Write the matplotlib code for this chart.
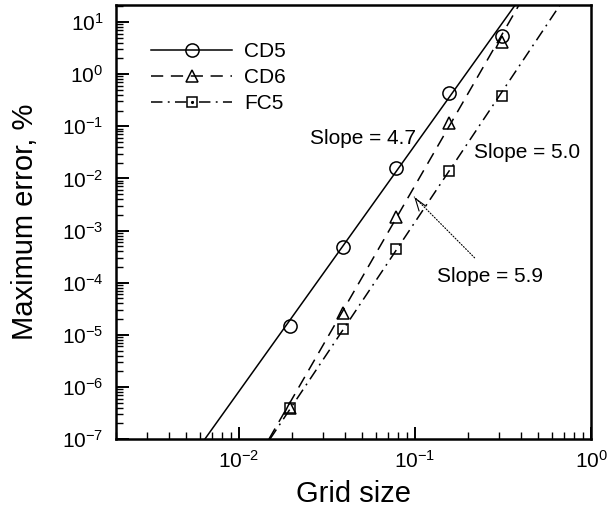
import matplotlib
matplotlib.use("Agg")
import matplotlib.pyplot as plt
from matplotlib.lines import Line2D
from matplotlib.legend_handler import HandlerTuple
from matplotlib.ticker import LogLocator, NullFormatter

plt.rcParams['font.family'] = ['Liberation Sans', 'DejaVu Sans']
plt.rcParams['mathtext.fontset'] = 'custom'
plt.rcParams['mathtext.rm'] = 'Liberation Sans'
plt.rcParams['mathtext.it'] = 'Liberation Sans'
plt.rcParams['mathtext.bf'] = 'Liberation Sans'
plt.rcParams['mathtext.default'] = 'regular'

# ---- data ----
grid_size = [0.01953, 0.03906, 0.07813, 0.15625, 0.3125]
err_cd5 = [1.48e-5, 4.9e-4, 1.55e-2, 0.44, 5.3]
err_cd6 = [3.9e-7, 2.6e-5, 1.8e-3, 0.116, 4.1]
err_fc5 = [3.9e-7, 1.28e-5, 4.4e-4, 1.38e-2, 0.38]

# fitted lines (end points read where they cross the axes box)
fit_cd5_x = [0.0064, 0.37]
fit_cd5_y = [1e-7, 21.0]
fit_cd6_x = [0.0148, 0.389]
fit_cd6_y = [1e-7, 21.0]
fit_fc5_x = [0.0150, 0.665]
fit_fc5_y = [1e-7, 21.0]

labels = ["CD5", "CD6", "FC5"]
slope_texts = ["Slope = 4.7", "Slope = 5.0", "Slope = 5.9"]

fig = plt.figure(figsize=(6.1, 5.16), dpi=100)
ax = fig.add_axes([0.190, 0.149, 0.779, 0.841])
ax.set_xscale('log')
ax.set_yscale('log')
ax.set_xlim(0.002, 1.0)
ax.set_ylim(1e-7, 21.0)

lw = 1.1
dash_style = (0, (8, 5))
dashdot_style = (0, (7.5, 3.5, 1.2, 3.5))

ax.plot(fit_cd5_x, fit_cd5_y, color='k', lw=lw, ls='-')
ax.plot(fit_cd6_x, fit_cd6_y, color='k', lw=lw, ls=dash_style)
ax.plot(fit_fc5_x, fit_fc5_y, color='k', lw=lw, ls=dashdot_style)

ax.plot(grid_size, err_cd5, ls='none', marker='o', ms=9.5, mfc='none', mec='k', mew=1.1)
ax.plot(grid_size, err_cd6, ls='none', marker='^', ms=8.5, mfc='none', mec='k', mew=1.1)
ax.plot(grid_size, err_fc5, ls='none', marker='s', ms=7, mfc='none', mec='k', mew=1.1)

# annotations
ax.text(0.0509, 0.0592, slope_texts[0], fontsize=15, ha='center', va='center')
ax.text(0.4315, 0.0318, slope_texts[1], fontsize=15, ha='center', va='center')
ax.text(0.2658, 1.29e-4, slope_texts[2], fontsize=15, ha='center', va='center')

tip = (0.099, 4.4e-3)
tail = (0.218, 3.0e-4)
ax.annotate('', xy=tip, xytext=tail,
            arrowprops=dict(arrowstyle='-', lw=0.8, ls=':', color='k',
                            shrinkA=0, shrinkB=0))
near = (0.101, 4.0e-3)
ax.annotate('', xy=tip, xytext=near,
            arrowprops=dict(arrowstyle='->,head_length=0.9,head_width=0.3', lw=0.8,
                            color='k', shrinkA=0, shrinkB=0))

# legend
h1 = Line2D([], [], color='k', lw=lw, ls='-', marker='o', ms=9.5, mfc='none', mew=1.1)
h2 = Line2D([], [], color='k', lw=lw, ls=dash_style, marker='^', ms=8.5, mfc='none', mew=1.1)
h3 = Line2D([], [], color='k', lw=lw, ls=dashdot_style, marker='s', ms=7, mfc='none', mew=1.1)
h3dot = Line2D([], [], color='k', ls='none', marker='.', ms=2.5)
leg = ax.legend([h1, h2, (h3, h3dot)], labels, loc='upper left',
                bbox_to_anchor=(0.074, 0.915), frameon=False, fontsize=15,
                handlelength=3.9, handletextpad=0.55, labelspacing=0.33,
                borderpad=0, borderaxespad=0,
                handler_map={tuple: HandlerTuple(ndivide=1)})

# axes styling
for s in ax.spines.values():
    s.set_linewidth(1.8)
ax.tick_params(which='both', direction='in', top=False, right=False)
ax.tick_params(which='major', length=9, width=1.4, labelsize=15, pad=8)
ax.tick_params(which='minor', length=5, width=1.0)
ax.tick_params(axis='y', which='major', pad=9)

ax.xaxis.set_major_locator(LogLocator(base=10, numticks=10))
ax.xaxis.set_minor_locator(LogLocator(base=10, subs=range(2, 10), numticks=20))
ax.yaxis.set_major_locator(LogLocator(base=10, numticks=20))
ax.yaxis.set_minor_locator(LogLocator(base=10, subs=range(2, 10), numticks=40))
ax.xaxis.set_minor_formatter(NullFormatter())
ax.yaxis.set_minor_formatter(NullFormatter())

ax.set_xlabel('Grid size', fontsize=21, labelpad=6)
ax.set_ylabel('Maximum error, %', fontsize=21, labelpad=16)

fig.savefig('out.png', dpi=100)
